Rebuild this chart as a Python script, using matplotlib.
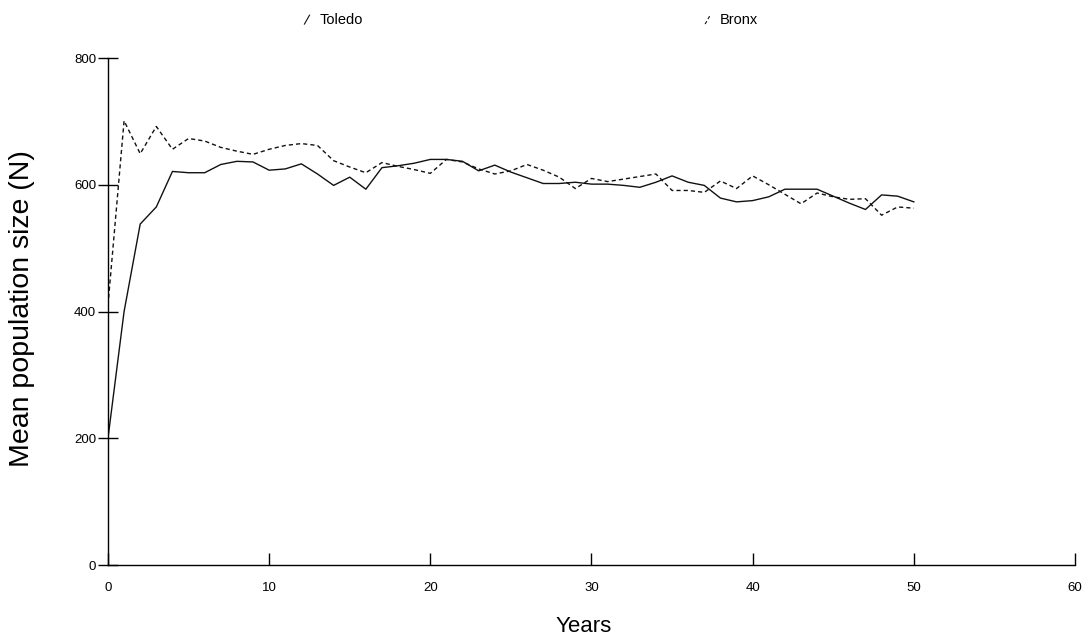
"""
Mean population size over time for the Toledo and Bronx runs.
"""

import matplotlib
matplotlib.use("Agg")
import matplotlib.pyplot as plt
from matplotlib import font_manager
from matplotlib.lines import Line2D
from matplotlib.legend_handler import HandlerBase

# Data (one value per year, 0..50)
years = list(range(0, 51))

toledo = [200, 400, 538, 565, 621, 619, 619, 632, 637, 636,
          623, 625, 633, 617, 599, 612, 593, 627, 630, 634,
          640, 640, 637, 622, 631, 620, 611, 602, 602, 604,
          601, 601, 599, 596, 604, 614, 604, 599, 579, 573,
          575, 581, 593, 593, 593, 582, 571, 561, 584, 582,
          573]

bronx = [410, 701, 649, 692, 656, 673, 669, 659, 653, 648,
         656, 662, 665, 662, 638, 628, 619, 635, 629, 624,
         618, 640, 636, 625, 617, 622, 632, 623, 612, 594,
         610, 605, 609, 613, 617, 591, 591, 588, 606, 594,
         614, 600, 585, 570, 587, 581, 577, 578, 552, 565,
         563]

series_names = ["Toledo", "Bronx"]
x_ticks = [0, 10, 20, 30, 40, 50, 60]
y_ticks = [0, 200, 400, 600, 800]


class SlashHandler(HandlerBase):
    """Legend handle drawn as a short slanted stroke."""

    def create_artists(self, legend, orig_handle, xdescent, ydescent,
                       width, height, fontsize, trans):
        x0, y0 = -xdescent, -ydescent
        line = Line2D([x0 + width * 0.25, x0 + width * 0.75],
                      [y0 + height * 0.05, y0 + height * 0.85])
        self.update_prop(line, orig_handle, legend)
        line.set_linewidth(0.8)
        line.set_transform(trans)
        return [line]


# Pick a narrow face for the small text if one is available
installed = {f.name for f in font_manager.fontManager.ttflist}
small_font = "Liberation Sans Narrow" if "Liberation Sans Narrow" in installed else "Liberation Sans"

plt.rcParams['font.family'] = ['Liberation Sans', 'DejaVu Sans']

fig = plt.figure(figsize=(10.84, 6.39), dpi=100)
ax = fig.add_axes([0.0996, 0.1158, 0.8921, 0.7934])

line_t, = ax.plot(years, toledo, color='#111111', lw=1.0, label=series_names[0])
line_b, = ax.plot(years, bronx, color='#111111', lw=1.0, dashes=(3.0, 2.2),
                  label=series_names[1])

ax.set_xlim(0, 60)
ax.set_ylim(0, 800)
ax.set_xticks(x_ticks)
ax.set_yticks(y_ticks)

for side in ['top', 'right']:
    ax.spines[side].set_visible(False)
for side in ['left', 'bottom']:
    ax.spines[side].set_linewidth(1.0)
    ax.spines[side].set_color('black')

ax.tick_params(axis='y', direction='inout', length=15, width=1.0, pad=1,
               labelsize=9.5)
ax.tick_params(axis='x', direction='in', length=9, width=1.0, pad=12,
               labelsize=9.5)
for lab in ax.get_xticklabels() + ax.get_yticklabels():
    lab.set_fontfamily(small_font)

ax.set_xlabel('Years', fontsize=16)
ax.xaxis.set_label_coords(0.492, -0.100)
ax.set_ylabel('Mean population size (N)', fontsize=20.5)
ax.yaxis.set_label_coords(-0.075, 0.505)

leg = fig.legend(handles=[line_t, line_b], loc='upper center',
                 bbox_to_anchor=(0.489, 1.0), ncol=2, frameon=False,
                 handlelength=0.7, handleheight=0.8, handletextpad=0.5,
                 columnspacing=23.3, prop={'family': small_font, 'size': 10.5},
                 handler_map={Line2D: SlashHandler()})

fig.savefig('out.png', dpi=100)
